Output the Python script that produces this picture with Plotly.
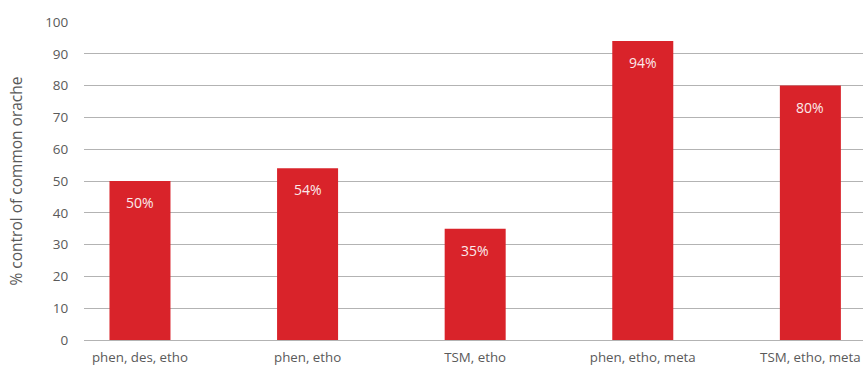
import plotly.graph_objects as go

categories = ["phen, des, etho", "phen, etho", "TSM, etho", "phen, etho, meta", "TSM, etho, meta"]
values = [50, 54, 35, 94, 80]
labels = ["50%", "54%", "35%", "94%", "80%"]
y_ticks = [0, 10, 20, 30, 40, 50, 60, 70, 80, 90, 100]

font_family = "Open Sans, Noto Sans, sans-serif"

fig = go.Figure()
fig.add_trace(go.Bar(
    x=list(range(len(categories))),
    y=values,
    width=0.364,
    marker=dict(color="#d9232a", line=dict(width=0)),
    hoverinfo="skip",
))

for i, (v, t) in enumerate(zip(values, labels)):
    fig.add_annotation(
        x=i, y=v, text=t, showarrow=False, yanchor="top", yshift=-10,
        font=dict(family=font_family, size=14, color="#fbeaea"),
    )

fig.update_layout(
    width=863, height=371,
    margin=dict(l=84, r=0, t=22, b=31),
    paper_bgcolor="white", plot_bgcolor="white",
    showlegend=False,
    font=dict(family=font_family, size=13, color="#5a5a5a"),
    xaxis=dict(
        range=[-0.334, 4.314],
        tickmode="array",
        tickvals=list(range(len(categories))),
        ticktext=categories,
        showgrid=False, zeroline=False, showline=False,
        ticks="outside", ticklen=5, tickcolor="rgba(0,0,0,0)",
        tickfont=dict(size=13.3, color="#5a5a5a"),
    ),
    yaxis=dict(
        range=[0, 100],
        tickmode="array",
        tickvals=y_ticks,
        showgrid=True, gridcolor="#b3b3b3", gridwidth=1,
        zeroline=True, zerolinecolor="#b3b3b3", zerolinewidth=1,
        showline=False,
        ticks="outside", ticklen=12, tickcolor="rgba(0,0,0,0)",
        tickfont=dict(size=13.5, color="#5a5a5a"),
        title=dict(text="% control of common orache", standoff=18,
                   font=dict(size=15.5, color="#5a5a5a")),
    ),
)

fig.write_html("out.html")
